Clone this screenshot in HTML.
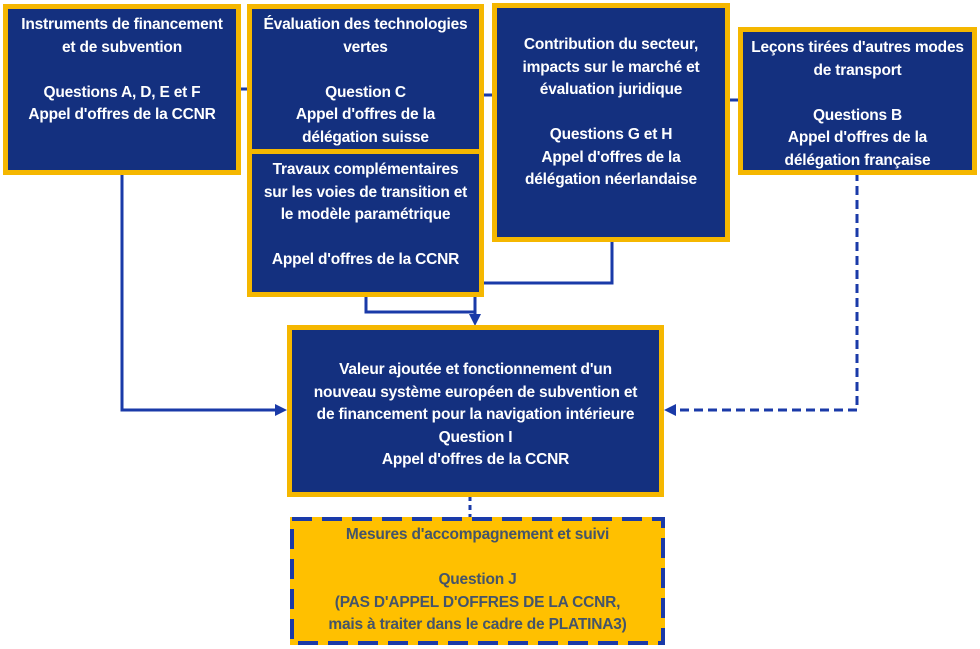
<!DOCTYPE html>
<html><head><meta charset="utf-8"><style>
body{margin:0;width:980px;height:649px;background:#fff;position:relative;overflow:hidden;font-family:"Liberation Sans",sans-serif;}
.b{position:absolute;box-sizing:border-box;background:#14307f;border:5px solid #f5b700;color:#fff;font-weight:bold;font-size:15.5px;line-height:22.5px;text-align:center;display:flex;flex-direction:column;align-items:center;white-space:nowrap;letter-spacing:-0.2px}
svg{position:absolute;left:0;top:0}
</style></head><body>
<svg width="980" height="649">
<g stroke="#1a3aa8" stroke-width="3" fill="none">
<line x1="238" y1="89" x2="250" y2="89"/>
<line x1="481" y1="95" x2="495" y2="95"/>
<line x1="727" y1="100" x2="741" y2="100"/>
<polyline points="122,172 122,410 278,410"/>
<polyline points="366,295 366,312 475,312"/>
<polyline points="612,240 612,283 475,283 475,318"/>
<polyline points="857,172 857,410 672,410" stroke-dasharray="9,5"/>
<line x1="470" y1="496" x2="470" y2="518" stroke-dasharray="5,4"/>
</g>
<g fill="#1a3aa8">
<polygon points="287,410 275,404 275,416"/>
<polygon points="475,326 469,314 481,314"/>
<polygon points="664,410 676,404 676,416"/>
</g>
</svg>
<div class="b" style="left:3px;top:4px;width:238px;height:171px;padding-top:5px">Instruments de financement<br>et de subvention<br><br>Questions A, D, E et F<br>Appel d'offres de la CCNR</div>
<div class="b" style="left:247px;top:4px;width:237px;height:150px;padding-top:5px">Évaluation des technologies<br>vertes<br><br>Question C<br>Appel d'offres de la<br>délégation suisse</div>
<div class="b" style="left:247px;top:149px;width:237px;height:148px;padding-top:5px">Travaux complémentaires<br>sur les voies de transition et<br>le modèle paramétrique<br><br>Appel d'offres de la CCNR</div>
<div class="b" style="left:492px;top:3px;width:238px;height:239px;padding-top:26px">Contribution du secteur,<br>impacts sur le marché et<br>évaluation juridique<br><br>Questions G et H<br>Appel d'offres de la<br>délégation néerlandaise</div>
<div class="b" style="left:738px;top:27px;width:239px;height:148px;padding-top:5px">Leçons tirées d'autres modes<br>de transport<br><br>Questions B<br>Appel d'offres de la<br>délégation française</div>
<div class="b" style="left:287px;top:325px;width:377px;height:172px;padding-top:29px">Valeur ajoutée et fonctionnement d'un<br>nouveau système européen de subvention et<br>de financement pour la navigation intérieure<br>Question I<br>Appel d'offres de la CCNR</div>
<div class="b" style="left:290px;top:517px;width:375px;height:128px;background:#ffc000;border:none;color:#44546a;padding-top:7px">Mesures d'accompagnement et suivi<br><br>Question J<br>(PAS D'APPEL D'OFFRES DE LA CCNR,<br>mais à traiter dans le cadre de PLATINA3)</div>
<svg width="980" height="649" style="pointer-events:none"><rect x="292" y="519" width="371" height="124" fill="none" stroke="#1a3aa8" stroke-width="4" stroke-dasharray="20,10"/></svg>
</body></html>
